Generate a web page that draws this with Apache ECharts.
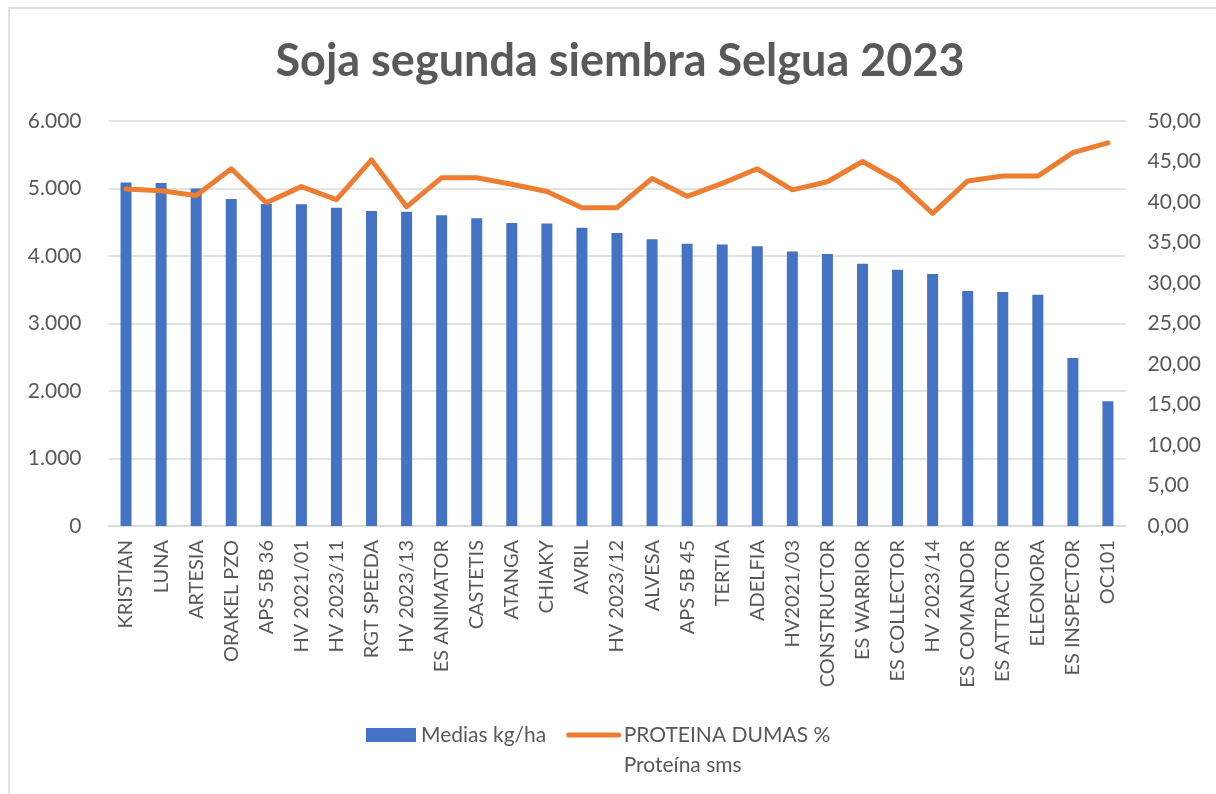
<!DOCTYPE html>
<html>
<head>
<meta charset="utf-8">
<script src="https://cdn.jsdelivr.net/npm/echarts@6/dist/echarts.min.js"></script>
<style>
  html, body { margin: 0; padding: 0; background: #fff; }
  #chart { width: 1216px; height: 794px; }
</style>
</head>
<body>
<div id="chart"></div>
<script>
// variedades
var categories = ['KRISTIAN', 'LUNA', 'ARTESIA', 'ORAKEL PZO', 'APS 5B 36', 'HV 2021/01', 'HV 2023/11',
  'RGT SPEEDA', 'HV 2023/13', 'ES ANIMATOR', 'CASTETIS', 'ATANGA', 'CHIAKY', 'AVRIL', 'HV 2023/12',
  'ALVESA', 'APS 5B 45', 'TERTIA', 'ADELFIA', 'HV2021/03', 'CONSTRUCTOR', 'ES WARRIOR', 'ES COLLECTOR',
  'HV 2023/14', 'ES COMANDOR', 'ES ATTRACTOR', 'ELEONORA', 'ES INSPECTOR', 'OC101'];

// Medias kg/ha
var medias = [5090, 5080, 5000, 4845, 4770, 4765, 4715, 4665, 4655, 4605, 4560, 4490, 4480, 4420, 4340,
  4250, 4180, 4170, 4145, 4065, 4030, 3885, 3795, 3735, 3480, 3465, 3425, 2490, 1850];

// Proteina %
var proteina = [41.6, 41.4, 40.8, 44.1, 39.9, 41.9, 40.3, 45.2, 39.4, 43.0, 43.0, 42.2, 41.3, 39.3, 39.3,
  42.9, 40.7, 42.3, 44.1, 41.5, 42.5, 45.0, 42.6, 38.6, 42.6, 43.2, 43.2, 46.1, 47.3];

var leftTicks = [0, 6000, 1000];   // min, max, interval
var rightTicks = [0, 50, 5];

var barName = 'Medias kg/ha';
var lineName = 'PROTEINA DUMAS %\nProteína sms';

var txt = '#595959';
var grid = '#D9D9D9';
var font = 'Lato';

var myChart = echarts.init(document.getElementById('chart'));

var option = {
  animation: false,
  backgroundColor: '#fff',
  textStyle: { fontFamily: font },
  title: {
    text: 'Soja segunda siembra Selgua 2023',
    left: 615,
    textAlign: 'center',
    top: 34,
    textStyle: { color: txt, fontSize: 45, fontWeight: 'bold', fontFamily: font }
  },
  graphic: [{
    type: 'rect',
    shape: { x: 9, y: 8, width: 1240, height: 820 },
    style: { fill: 'none', stroke: grid, lineWidth: 1.5 },
    silent: true
  }],
  legend: {
    left: 361,
    top: 685,
    itemWidth: 50,
    itemHeight: 14,
    itemGap: 20,
    textStyle: { color: txt, fontSize: 21, fontFamily: font, lineHeight: 30 },
    // empty first line so the icon sits beside the first text line
    formatter: function (name) {
      return name === lineName ? '\n' + name : name;
    },
    data: [
      { name: barName, icon: 'rect' },
      { name: lineName, itemStyle: { opacity: 0 }, lineStyle: { width: 5, cap: 'round' } }
    ]
  },
  grid: {
    left: 108.5,
    right: 90.5,
    top: 121,
    bottom: 268
  },
  xAxis: {
    type: 'category',
    data: categories,
    axisTick: { show: false },
    axisLine: { lineStyle: { color: grid, width: 1.5 } },
    axisLabel: {
      interval: 0,
      rotate: 90,
      margin: 14,
      color: txt,
      fontSize: 20,
      fontFamily: font
    }
  },
  yAxis: [{
    type: 'value',
    min: leftTicks[0],
    max: leftTicks[1],
    interval: leftTicks[2],
    axisLine: { show: false },
    axisTick: { show: false },
    splitLine: { lineStyle: { color: grid, width: 1.5 } },
    axisLabel: {
      margin: 27,
      color: txt,
      fontSize: 21,
      fontFamily: font,
      formatter: function (v) {
        return String(v).replace(/\B(?=(\d{3})+(?!\d))/g, '.');
      }
    }
  }, {
    type: 'value',
    min: rightTicks[0],
    max: rightTicks[1],
    interval: rightTicks[2],
    axisLine: { show: false },
    axisTick: { show: false },
    splitLine: { show: false },
    axisLabel: {
      margin: 22,
      color: txt,
      fontSize: 21,
      fontFamily: font,
      formatter: function (v) {
        return v.toFixed(2).replace('.', ',');
      }
    }
  }],
  series: [{
    name: barName,
    type: 'bar',
    data: medias,
    barWidth: 11,
    itemStyle: { color: '#4472C4' }
  }, {
    name: lineName,
    type: 'line',
    yAxisIndex: 1,
    data: proteina,
    symbol: 'none',
    z: 5,
    itemStyle: { color: '#ED7D31' },
    lineStyle: { color: '#ED7D31', width: 5, cap: 'round', join: 'round' }
  }]
};

myChart.setOption(option);
</script>
</body>
</html>
